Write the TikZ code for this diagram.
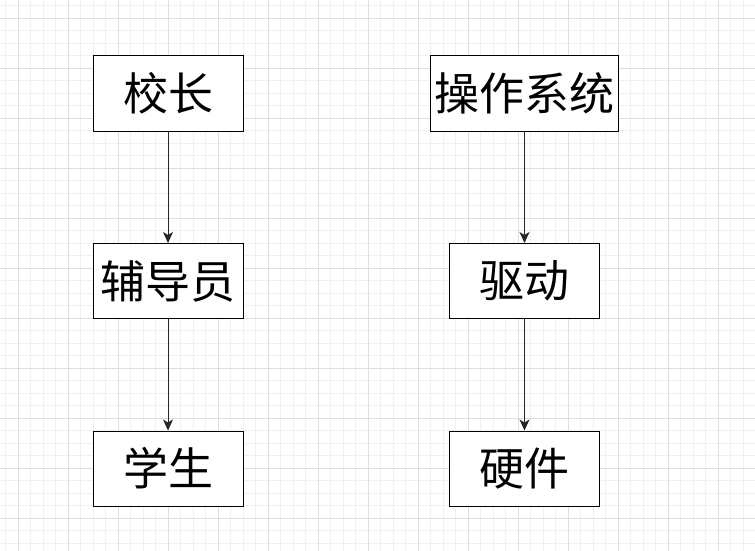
\documentclass[tikz,border=0pt]{standalone}
\usepackage{fontspec}
\newfontfamily\cjk{Noto Sans CJK SC}
\usepackage{tikz}
\usetikzlibrary{arrows.meta}

\begin{document}
\begin{tikzpicture}[x=1pt, y=-1pt,
    every node/.style={rectangle, draw, fill=white, line width=1pt, minimum width=150pt, minimum height=75pt, inner sep=4pt, font=\cjk\fontsize{45}{48}\selectfont},
    arrow/.style={-{Stealth[length=11pt, width=10pt, inset=3pt]}, line width=1pt, draw=black!85, fill=black!85},
    minorgrid/.style={draw=black!6, line width=0.8pt},
    majorgrid/.style={draw=black!13, line width=0.8pt}
]
\useasboundingbox[fill=white] (0,0) rectangle (755,551);
%% ============================================================
%% background grid
%% ============================================================
\foreach \k in {0,...,60} {
    \draw[minorgrid] (5.8+12.5*\k,0) -- (5.8+12.5*\k,551);
    \draw[minorgrid] (0,5.8+12.5*\k) -- (755,5.8+12.5*\k);
}
\foreach \k in {0,...,15} {
    \draw[majorgrid] (18.3+50*\k,0) -- (18.3+50*\k,551);
    \draw[majorgrid] (0,18.3+50*\k) -- (755,18.3+50*\k);
}
%% ============================================================
%% LEFT COLUMN: school
%% ============================================================
\node (L1) at (168,93.5)  {校长};
\node (L2) at (168,281)   {辅导员};
\node (L3) at (168,468.5) {学生};
\draw[arrow] (L1) -- (L2);
\draw[arrow] (L2) -- (L3);
%% ============================================================
%% RIGHT COLUMN: computer
%% ============================================================
\node (R1) at (524.5,93.5)  {操作系统};
\node (R2) at (524.5,281)   {驱动};
\node (R3) at (524.5,468.5) {硬件};
\draw[arrow] (R1) -- (R2);
\draw[arrow] (R2) -- (R3);
\end{tikzpicture}
\end{document}
